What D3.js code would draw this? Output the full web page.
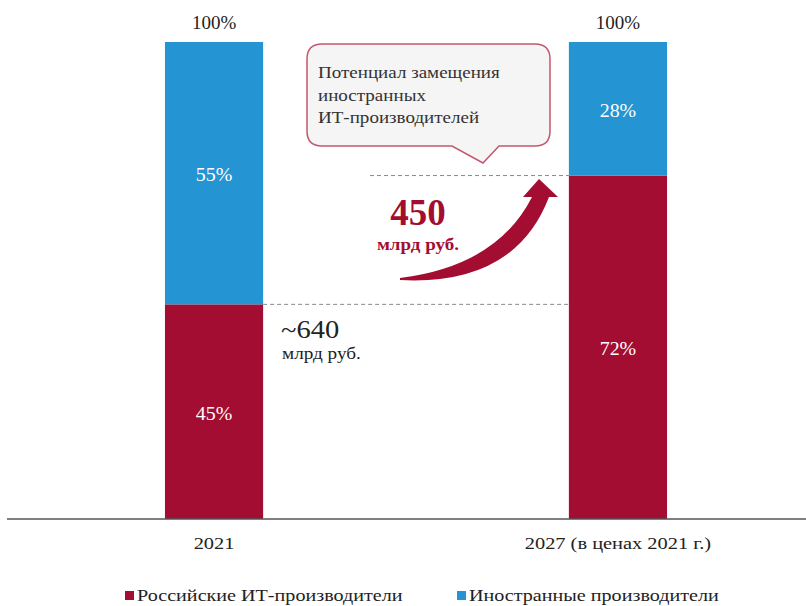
<!DOCTYPE html>
<html>
<head>
<meta charset="utf-8">
<script src="https://cdn.jsdelivr.net/npm/d3@7"></script>
<style>
  body { margin: 0; background: #fff; }
  svg text { font-family: "Liberation Serif", "DejaVu Serif", serif; }
</style>
</head>
<body>
<svg id="chart" width="806" height="606"></svg>
<script>
const years = ["2021", "2027 (в ценах 2021 г.)"];
const russian = [45, 72];
const foreign = [55, 28];
const totals = [100, 100];
const seriesNames = ["Российские ИТ-производители", "Иностранные производители"];
const colors = ["#a30d32", "#2594d2"];
const serif = "'Liberation Serif', 'DejaVu Serif', serif";

const svg = d3.select("#chart");

const x = d3.scaleBand().domain(years).range([12, 820])
  .paddingInner(0.757).paddingOuter(0.3787);
const y = d3.scaleLinear().domain([0, 100]).range([519, 42]);

// text helper; source text is horizontally stretched, so sx scales width
function label(t, px, py, size, fill, anchor = "start", weight = "normal", sx = 1) {
  return svg.append("text")
    .attr("transform", `translate(${px},${py}) scale(${sx},1)`)
    .attr("text-anchor", anchor).attr("fill", fill)
    .style("font-family", serif).style("font-size", size + "px")
    .style("font-weight", weight).text(t);
}

// bars
years.forEach((yr, i) => {
  const x0 = x(yr), w = x.bandwidth();
  svg.append("rect")
    .attr("x", x0).attr("y", y(russian[i]))
    .attr("width", w).attr("height", y(0) - y(russian[i]))
    .attr("fill", colors[0]);
  svg.append("rect")
    .attr("x", x0).attr("y", y(russian[i] + foreign[i]))
    .attr("width", w).attr("height", y(russian[i]) - y(russian[i] + foreign[i]))
    .attr("fill", colors[1]);

  const cx = x0 + w / 2;
  label(russian[i] + "%", cx, (y(0) + y(russian[i])) / 2 + 8, 19, "#fff", "middle", "normal", 1.05);
  label(foreign[i] + "%", cx, (y(russian[i]) + y(100)) / 2 + 8, 19, "#fff", "middle", "normal", 1.05);
  label(totals[i] + "%", cx, y(totals[i]) - 13, 19, "#222", "middle");
});

// axis
const axis = svg.append("g").attr("transform", `translate(0,${y(0)})`)
  .call(d3.axisBottom(x).tickSize(0));
axis.select(".domain").attr("d", "M7,0H806").attr("stroke", "#555").attr("stroke-width", 1.5);
axis.selectAll("text")
  .attr("y", 30).attr("dy", 0)
  .attr("transform", "scale(1.2,1)")
  .style("font-size", "17px").style("font-family", serif).attr("fill", "#222");

// dashed reference lines
const xA = years[0], xB = years[1];
svg.append("line")
  .attr("x1", x(xA) + x.bandwidth()).attr("x2", x(xB))
  .attr("y1", y(russian[0])).attr("y2", y(russian[0]))
  .attr("stroke", "#888").attr("stroke-dasharray", "4,3");
svg.append("line")
  .attr("x1", 370).attr("x2", x(xB))
  .attr("y1", y(russian[1])).attr("y2", y(russian[1]))
  .attr("stroke", "#888").attr("stroke-dasharray", "4,3");

// ~640 label
label("~640", 281, 338, 25, "#222", "start", "normal", 1.14);
label("млрд руб.", 282, 359, 16, "#222", "start", "normal", 1.2);

// curved arrow
svg.append("path")
  .attr("d", "M400,278 Q497,266 532,197 L523,197 L539,179 L558,197 L549,197 Q515,286 400,280 Z")
  .attr("fill", colors[0]);
label("450", 418, 225, 37, colors[0], "middle", "bold");
label("млрд руб.", 418, 250, 17, colors[0], "middle", "bold", 1.12);

// callout
const bx0 = 307, bx1 = 550, by0 = 44, by1 = 146, r = 15;
svg.append("path")
  .attr("d", `M${bx0 + r},${by0} H${bx1 - r} Q${bx1},${by0} ${bx1},${by0 + r} V${by1 - r} Q${bx1},${by1} ${bx1 - r},${by1}
    H499 L483,163 L452,${by1} H${bx0 + r} Q${bx0},${by1} ${bx0},${by1 - r} V${by0 + r} Q${bx0},${by0} ${bx0 + r},${by0} Z`)
  .attr("fill", "#f5f5f5").attr("stroke", "#c4566f").attr("stroke-width", 1.5);
["Потенциал замещения", "иностранных", "ИТ-производителей"].forEach((t, i) => {
  label(t, 318, 78 + i * 22.5, 17, "#333", "start", "normal", 1.12);
});

// legend
const legendX = [125, 457];
seriesNames.forEach((n, i) => {
  svg.append("rect").attr("x", legendX[i]).attr("y", 591).attr("width", 9).attr("height", 9)
    .attr("fill", colors[i]);
  label(n, legendX[i] + 12, 601, 16.5, "#222", "start", "normal", 1.22);
});
</script>
</body>
</html>
